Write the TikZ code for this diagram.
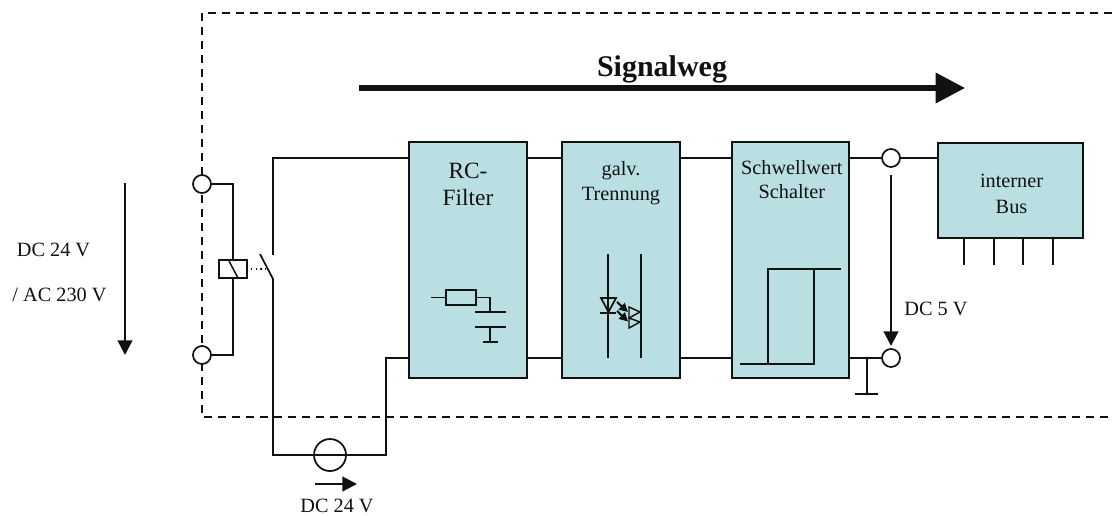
\documentclass[tikz,border=0pt]{standalone}
\usepackage{fontspec}
\setmainfont{Liberation Serif}
\usepackage{xcolor}
\definecolor{cBox}{HTML}{B9DFE3}
\definecolor{cLine}{HTML}{111111}
\usepackage{tikz}
\usetikzlibrary{positioning,arrows.meta}
\tikzset{
  node-box/.style={draw=cLine,line width=1.3pt,fill=cBox,inner sep=0pt},
  node-term/.style={draw=cLine,line width=1.3pt,circle,fill=white,inner sep=0pt,minimum size=13.5pt},
  node-text/.style={inner sep=0pt,align=center,text=cLine,font=\fontsize{15.2}{18.4}\selectfont},
  wire/.style={line width=1.3pt,draw=cLine},
  thin-wire/.style={line width=1.1pt,draw=cLine},
  frame/.style={line width=1pt,draw=cLine,dash pattern=on 6pt off 4.5pt},
  arrow/.style={-{Triangle[length=11pt,width=11pt]},line width=1.6pt,draw=cLine},
  arrow-flow/.style={-{Triangle[length=22pt,width=22pt]},line width=4.2pt,draw=cLine},
  arrow-light/.style={-{Triangle[length=6.5pt,width=6.5pt]},line width=1.6pt,draw=cLine},
}
\begin{document}
\begin{tikzpicture}[x=0.75pt,y=-0.75pt]
  \useasboundingbox (0,0) rectangle (1112,515);
  % frame
  \coordinate (frame-ne) at (1112,13);
  \coordinate (frame-nw) at (202,13);
  \coordinate (frame-sw) at (202,417);
  \coordinate (frame-se) at (1112,417);
  \draw[frame] (frame-ne) -- (frame-nw) -- (frame-sw) -- (frame-se);
  % blocks
  \node[node-box,minimum width=88.5pt,minimum height=177pt] (rc)    at (468,260) {};
  \node[node-box,minimum width=88.5pt,minimum height=177pt] (galv)  at (621,260) {};
  \node[node-box,minimum width=87.75pt,minimum height=177pt] (schw) at (790.5,260) {};
  \node[node-box,minimum width=108.75pt,minimum height=71.25pt] (bus) at (1010.5,190.5) {};
  \node[node-text,font=\fontsize{17.5}{20.2}\selectfont,below=16pt of rc.north] (rc-text) {RC-\\Filter};
  \node[node-text,below=15pt of galv.north] (galv-text) {galv.\\Trennung};
  \node[node-text,below=14pt of schw.north,xshift=1pt] (schw-text) {Schwellwert\\Schalter};
  \node[node-text,font=\fontsize{15.2}{19}\selectfont] (bus-text) at (1011.5,194) {interner\\Bus};
  % terminals
  \node[node-term] (term-a) at (202,184) {};
  \node[node-term] (term-b) at (202,355) {};
  \node[node-term] (term-c) at (891,158) {};
  \node[node-term] (term-d) at (891,358) {};
  % relay
  \node[draw=cLine,line width=1.3pt,inner sep=0pt,minimum width=21pt,minimum height=13.5pt] (coil) at (233,269) {};
  \draw[wire] (term-a) -| (coil);
  \draw[wire] (term-b) -| (coil);
  \draw[thin-wire] (229,261) -- (238,278);
  \coordinate (sw-open) at (273,255);
  \coordinate (sw-tip) at (260,254);
  \coordinate (sw-hinge) at (273,279);
  \coordinate (loop-sw) at (273,455);
  \coordinate (loop-se) at (386,455);
  \draw[thin-wire,dash pattern=on 1.2pt off 2.4pt] (coil.east) ++(3,0) -- (266,269);
  \draw[wire] (sw-open) |- (rc.west |- term-c);
  \draw[wire] (sw-tip) -- (sw-hinge) -- (loop-sw) -- (loop-se) |- (rc.west |- term-d);
  \node[draw=cLine,line width=1.3pt,circle,inner sep=0pt,minimum size=24pt] (source) at (330,455) {};
  % rails
  \draw[wire] (rc.east |- term-c) -- (galv.west |- term-c);
  \draw[wire] (rc.east |- term-d) -- (galv.west |- term-d);
  \draw[wire] (galv.east |- term-c) -- (schw.west |- term-c);
  \draw[wire] (galv.east |- term-d) -- (schw.west |- term-d);
  \draw[wire] (schw.east |- term-c) -- (term-c);
  \draw[wire] (schw.east |- term-d) -- (term-d);
  \draw[wire] (term-c) -- (bus.west |- term-c);
  % bus pins
  \foreach \px in {964,994,1023,1053}
    \draw[wire] (\px,238) -- (\px,265);
  % ground
  \draw[wire] (867,358) -- (867,394);
  \draw[wire] (855,394) -- (878,394);
  % RC symbol
  \node[draw=cLine,line width=1.3pt,inner sep=0pt,minimum width=22.5pt,minimum height=11.25pt] (res) at (461,297.5) {};
  \coordinate (res-in) at (431,297.5);
  \coordinate (cap-top) at (490,312);
  \draw[wire] (res-in) -- (res.west);
  \draw[wire] (res.east) -| (cap-top);
  \draw[wire] (475,312) -- (506,312);
  \draw[wire] (475,327) -- (506,327);
  \draw[wire] (490,327) -- (490,342);
  \draw[wire] (483,342) -- (498,342);
  % optocoupler
  \draw[wire] (608,254) -- (608,358);
  \draw[wire] (641,254) -- (641,358);
  \draw[wire] (601,298) -- (616,298) -- (608.5,312) -- cycle;
  \draw[wire] (600,313) -- (616,313);
  \draw[arrow-light] (617,302) -- (628,312);
  \draw[arrow-light] (617,311) -- (628,321.5);
  \draw[thin-wire] (640,312) -- (629,307) -- (629,318) -- cycle;
  \draw[thin-wire] (640,322) -- (629,318) -- (629,328) -- cycle;
  % hysteresis
  \draw[wire] (740,364) -- (814,364) -- (814,269);
  \draw[wire] (768,364) -- (768,269) -- (841,269);
  % signal arrows
  \coordinate (flow-a) at (359,88);
  \coordinate (flow-b) at (965,88);
  \draw[arrow-flow] (flow-a) -- (flow-b);
  \node[node-text,font=\fontsize{22.5}{26}\selectfont\bfseries] (flow-text) at (662,69) {Signalweg};
  \coordinate (in-a) at (125,183);
  \coordinate (in-b) at (125,355);
  \draw[arrow] (in-a) -- (in-b);
  \node[node-text] (in-dc) at (53.5,250) {DC 24 V};
  \node[node-text] (in-ac) at (59.5,295) {/ AC 230 V};
  \coordinate (out-a) at (891,175);
  \coordinate (out-b) at (891,346);
  \draw[arrow] (out-a) -- (out-b);
  \node[node-text] (out-text) at (936,309) {DC 5 V};
  \coordinate (cur-a) at (315,484);
  \coordinate (cur-b) at (357,484);
  \draw[arrow] (cur-a) -- (cur-b);
  \node[node-text] (cur-text) at (337,506) {DC 24 V};
\end{tikzpicture}
\end{document}
